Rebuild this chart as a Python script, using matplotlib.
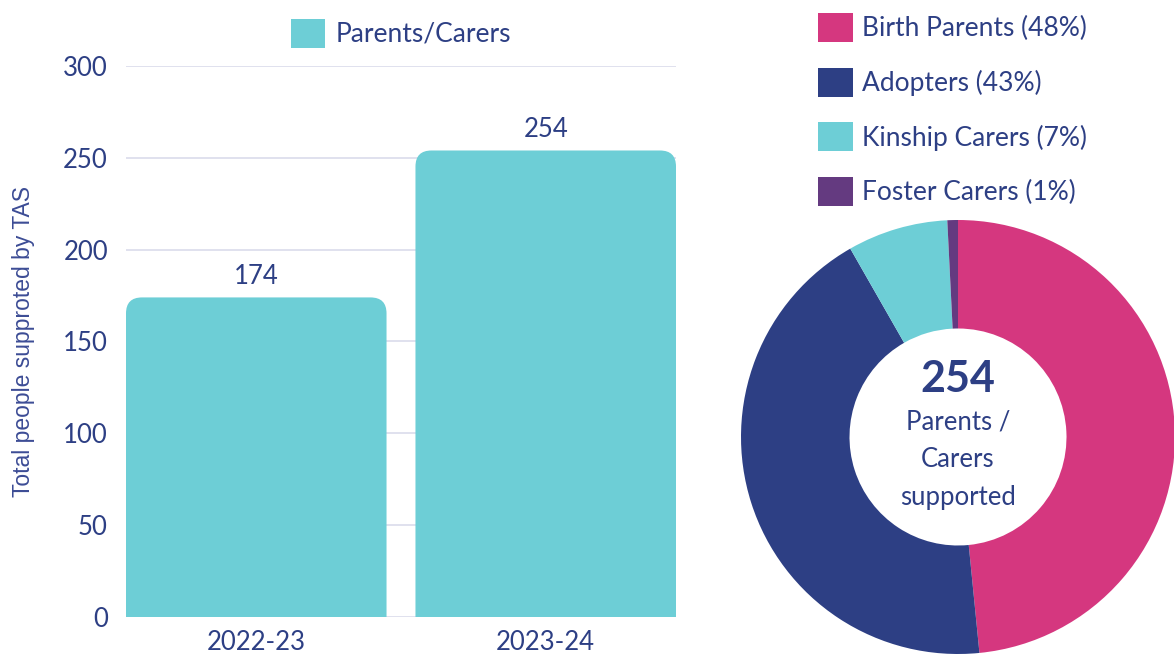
import numpy as np
import matplotlib
matplotlib.use("Agg")
import matplotlib.pyplot as plt
from matplotlib.patches import Patch, PathPatch
from matplotlib.path import Path

# data
years = ["2022-23", "2023-24"]
supported = [174, 254]
bar_label = "Parents/Carers"

groups = ["Birth Parents", "Adopters", "Kinship Carers", "Foster Carers"]
group_counts = [123, 110, 19, 2]
group_pct = [48, 43, 7, 1]
total = 254

teal = "#6DCED6"
navy = "#2D3F84"
pink = "#D5377F"
purple = "#643A80"
grid_c = "#DADBEB"
pie_colors = [pink, navy, teal, purple]

plt.rcParams["font.family"] = ["Lato", "DejaVu Sans"]

W, H = 1174, 657
fig = plt.figure(figsize=(W / 100, H / 100), dpi=100)


def rounded_top(ax, rect, r_px):
    # swap a plain bar for one with rounded top corners
    x0, y0 = rect.get_x(), rect.get_y()
    w, h = rect.get_width(), rect.get_height()
    p0 = ax.transData.transform((0, 0))
    p1 = ax.transData.transform((1, 1))
    rx = r_px / (p1[0] - p0[0])
    ry = r_px / (p1[1] - p0[1])
    top = y0 + h
    verts = [(x0, y0), (x0, top - ry), (x0, top), (x0 + rx, top),
             (x0 + w - rx, top), (x0 + w, top), (x0 + w, top - ry),
             (x0 + w, y0), (x0, y0)]
    codes = [Path.MOVETO, Path.LINETO, Path.CURVE3, Path.CURVE3,
             Path.LINETO, Path.CURVE3, Path.CURVE3, Path.LINETO, Path.CLOSEPOLY]
    patch = PathPatch(Path(verts, codes), facecolor=rect.get_facecolor(),
                      edgecolor="none", zorder=2)
    rect.remove()
    ax.add_patch(patch)


# ---- bar chart ----
bw = 0.9
ax = fig.add_axes([126 / W, 40 / H, 550 / W, 551 / H])
ax.set_xlim(-bw / 2, len(years) - 1 + bw / 2)
ax.set_ylim(0, 300)
bars = ax.bar(range(len(years)), supported, width=bw, color=teal, zorder=2)
for b in list(bars):
    rounded_top(ax, b, 16)

for i, v in enumerate(supported):
    ax.annotate(str(v), (i, v), xytext=(0, 6), textcoords="offset points",
                ha="center", va="bottom", fontsize=18.5, color=navy)

ax.set_yticks(range(0, 301, 50))
ax.set_xticks(range(len(years)))
ax.set_xticklabels(years)
ax.tick_params(axis="both", length=0, labelsize=18.5, labelcolor=navy)
ax.tick_params(axis="y", pad=13)
ax.tick_params(axis="x", pad=9)
ax.grid(axis="y", color=grid_c, linewidth=1.2, zorder=0)
ax.set_axisbelow(True)
for s in ax.spines.values():
    s.set_visible(False)
ax.set_ylabel("Total people supproted by TAS", fontsize=16.5, color="#3C4C95",
              family=["Liberation Sans", "DejaVu Sans"], labelpad=20)

ax.legend(handles=[Patch(facecolor=teal, label=bar_label)], loc="lower center",
          bbox_to_anchor=(0.5, 1.0), frameon=False, fontsize=19,
          labelcolor=navy, handlelength=1.3, handleheight=1.3,
          handletextpad=0.4, borderaxespad=0.3)

# ---- donut ----
R = 217
pax = fig.add_axes([(958 - R) / W, (H - 437 - R) / H, 2 * R / W, 2 * R / H])
pax.pie(group_counts, colors=pie_colors, startangle=90, counterclock=False,
        radius=1, wedgeprops=dict(width=0.5, edgecolor="none"))
pax.set_xlim(-1, 1)
pax.set_ylim(-1, 1)
pax.set_aspect("equal")
pax.text(0, 0.265, str(total), ha="center", va="center", fontsize=31,
         fontweight="bold", color=navy)
for y, line in zip([0.07, -0.105, -0.28], ["Parents /", "Carers", "supported"]):
    pax.text(0, y, line, ha="center", va="center", fontsize=18.5, color=navy)

handles = [Patch(facecolor=c, label=f"{g} ({p}%)")
           for g, p, c in zip(groups, group_pct, pie_colors)]
fig.legend(handles=handles, loc="upper left", bbox_to_anchor=(805 / W, 1.0),
           frameon=False, fontsize=19, labelcolor=navy, handlelength=1.3,
           handleheight=1.3, handletextpad=0.35, labelspacing=0.98,
           borderaxespad=0.1)

fig.savefig("out.png", dpi=100)
